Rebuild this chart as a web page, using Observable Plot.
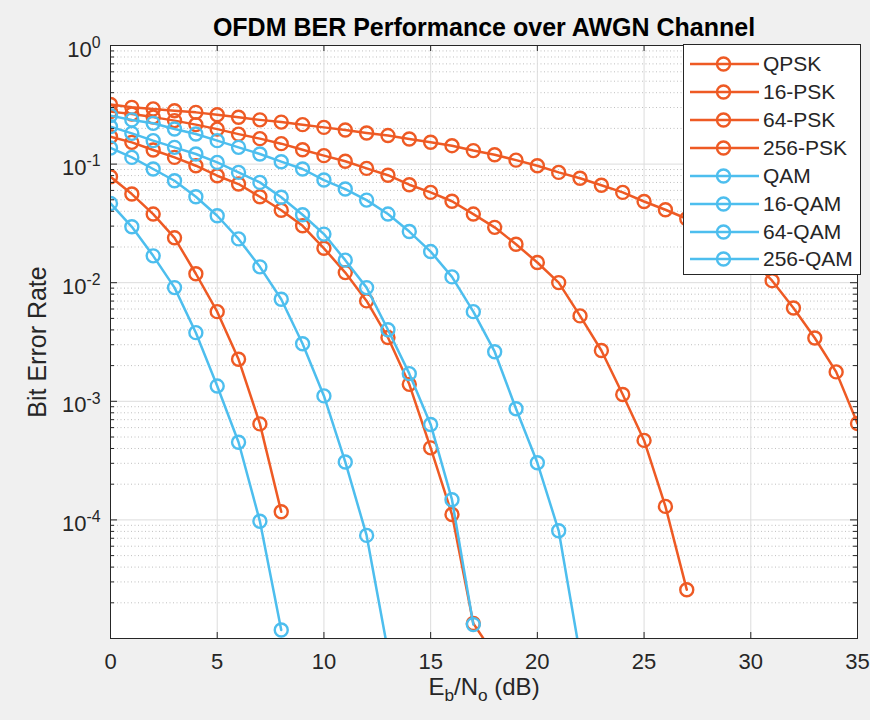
<!DOCTYPE html>
<html><head><meta charset="utf-8">
<script src="https://cdn.jsdelivr.net/npm/d3@7"></script>
<script src="https://cdn.jsdelivr.net/npm/@observablehq/plot@0.6"></script>
<style>
body{margin:0;background:#f0f0f0;}
#wrap{position:relative;width:870px;height:720px;font-family:"Liberation Sans",Arial,sans-serif;}
#legend{position:absolute;left:683px;top:44px;width:178px;height:231px;background:#fff;border:1px solid #262626;box-sizing:border-box;}
.row{position:absolute;left:0;height:28px;display:flex;align-items:center;}
.row span{font-size:21px;color:#262626;margin-left:1px;white-space:nowrap;}
</style></head><body><div id="wrap"></div>
<script>
const ebno = [0,1,2,3,4,5,6,7,8,9,10,11,12,13,14,15,16,17,18,19,20,21,22,23,24,25,26,27,28,29,30,31,32,33,34,35];
const seriesNames = ["QPSK","16-PSK","64-PSK","256-PSK","QAM","16-QAM","64-QAM","256-QAM"];
const seriesColors = ["#EE5A24","#EE5A24","#EE5A24","#EE5A24","#4DBEEE","#4DBEEE","#4DBEEE","#4DBEEE"];
const berQPSK = [0.0783,0.0559,0.0379,0.0239,0.0119,0.0057,0.00226,0.000645,0.000117];
const ber16PSK = [0.170,0.1525,0.1315,0.1139,0.0969,0.0798,0.0679,0.0530,0.0408,0.0302,0.0195,0.01217,0.00702,0.00345,0.00139,0.000405,0.000111,0.0000134,0.0000072];
const ber64PSK = [0.277,0.264,0.249,0.2326,0.2152,0.1971,0.1789,0.1639,0.1487,0.1323,0.1178,0.1058,0.0920,0.0806,0.0670,0.0577,0.0486,0.0379,0.0293,0.0211,0.0148,0.01002,0.00525,0.00268,0.00114,0.000468,0.000130,0.0000258];
const ber256PSK = [0.318,0.301,0.292,0.282,0.273,0.261,0.248,0.236,0.226,0.215,0.204,0.194,0.183,0.174,0.163,0.153,0.143,0.130,0.120,0.108,0.0969,0.0851,0.0760,0.0664,0.0577,0.0484,0.0412,0.0346,0.0279,0.0217,0.0159,0.0104,0.00612,0.00342,0.00177,0.00065];
const berQAM = [0.0466,0.0296,0.01684,0.00909,0.00379,0.001344,0.000452,0.0000973,0.0000118];
const ber16QAM = [0.1368,0.1139,0.0909,0.0724,0.0530,0.0367,0.0234,0.0136,0.00726,0.00306,0.00111,0.000308,0.000074,0.0000078];
const ber64QAM = [0.207,0.1816,0.1576,0.1384,0.1217,0.1034,0.0851,0.0701,0.0525,0.0374,0.0257,0.01549,0.00909,0.00401,0.00171,0.000638,0.000148,0.0000131];
const ber256QAM = [0.2563,0.2358,0.2207,0.1978,0.1795,0.1576,0.1384,0.1217,0.1048,0.0909,0.0734,0.0616,0.0497,0.0379,0.0270,0.0183,0.01119,0.0057,0.00262,0.000865,0.000303,0.000081,0.0000073];
const xTicks = [0,5,10,15,20,25,30,35];
const yTicks = [1,0.1,0.01,0.001,0.0001];
const yMinor = [];
for (let e = -5; e < 0; e++) for (let m = 2; m <= 9; m++) yMinor.push(m * Math.pow(10, e));
const titleText = "OFDM BER Performance over AWGN Channel";
const xLabelText = "Eb/No (dB)";
const yLabelText = "Bit Error Rate";

const allSeries = [berQPSK, ber16PSK, ber64PSK, ber256PSK, berQAM, ber16QAM, ber64QAM, ber256QAM];
const tables = allSeries.map((vals, k) => vals.map((v, i) => ({series: seriesNames[k], x: ebno[i], ber: v})));

const ink = "#262626";
const W = 870, H = 720, mL = 110, mR = 13, mT = 45, mB = 82;
const fw = W - mL - mR, fh = H - mT - mB;

const marks = [
  Plot.frame({fill: "white"}),
  Plot.ruleY(yMinor, {y: d => d, stroke: "#b0b0b0", strokeWidth: 0.8, strokeDasharray: "1,2.5"}),
  Plot.ruleY(yTicks, {y: d => d, stroke: "#dcdcdc", strokeWidth: 1}),
  Plot.ruleX(xTicks, {x: d => d, stroke: "#dcdcdc", strokeWidth: 1}),
];
tables.forEach((t, k) => {
  marks.push(Plot.line(t, {x: "x", y: "ber", stroke: seriesColors[k], strokeWidth: 2.5, clip: true}));
  marks.push(Plot.dot(t, {x: "x", y: "ber", r: 6.5, stroke: seriesColors[k], strokeWidth: 2.4, fill: "none", clip: true}));
});
marks.push(
  Plot.tickX(xTicks, {x: d => d, insetTop: fh - 6, stroke: ink}),
  Plot.tickX(xTicks, {x: d => d, insetBottom: fh - 6, stroke: ink}),
  Plot.tickY(yTicks, {y: d => d, insetRight: fw - 7, stroke: ink}),
  Plot.tickY(yTicks, {y: d => d, insetLeft: fw - 7, stroke: ink}),
  Plot.tickY(yMinor, {y: d => d, insetRight: fw - 4, stroke: ink}),
  Plot.tickY(yMinor, {y: d => d, insetLeft: fw - 4, stroke: ink}),
  Plot.frame({stroke: ink, strokeWidth: 1}),
  Plot.axisX({ticks: xTicks, tickSize: 0, tickPadding: 15, fontSize: 22, label: null, color: ink}),
  Plot.axisY({ticks: yTicks, tickSize: 0, tickPadding: 10, fontSize: 22, label: null, dy: 4, color: ink,
    tickFormat: d => String(Math.round(Math.log10(d)))}),
  Plot.text([titleText], {frameAnchor: "top", dy: -27, fontSize: 25, fontWeight: "bold", fill: "#000"}),
  Plot.text([yLabelText], {frameAnchor: "left", textAnchor: "middle", dx: -73, rotate: -90, fontSize: 25, fill: ink}),
  Plot.text([xLabelText], {frameAnchor: "bottom", dy: 56, fontSize: 24, fill: ink})
);

const chart = Plot.plot({
  width: W, height: H,
  marginLeft: mL, marginRight: mR, marginTop: mT, marginBottom: mB,
  style: {background: "#f0f0f0", fontFamily: "'Liberation Sans', Arial, sans-serif", color: ink},
  x: {domain: [0, 35]},
  y: {type: "log", domain: [1e-5, 1]},
  marks
});

// superscript exponents on y tick labels
d3.select(chart).selectAll('g[aria-label="y-axis tick label"] text').each(function() {
  const exp = this.textContent;
  const t = d3.select(this);
  t.text(null);
  t.append("tspan").text("10");
  t.append("tspan").attr("dy", "-0.55em").attr("font-size", "0.72em").text(exp);
});
// subscripts on x label
d3.select(chart).selectAll("text").filter(function() { return this.textContent === xLabelText; }).each(function() {
  const t = d3.select(this);
  t.text(null);
  t.append("tspan").text("E");
  t.append("tspan").attr("dy", "0.35em").attr("font-size", "0.72em").text("b");
  t.append("tspan").attr("dy", "-0.25em").text("/N");
  t.append("tspan").attr("dy", "0.35em").attr("font-size", "0.72em").text("o");
  t.append("tspan").attr("dy", "-0.25em").text(" (dB)");
});

const wrap = document.getElementById("wrap");
wrap.appendChild(chart);

const legend = document.createElement("div");
legend.id = "legend";
seriesNames.forEach((name, i) => {
  const row = document.createElement("div");
  row.className = "row";
  row.style.top = (5.4 + 27.86 * i) + "px";
  row.innerHTML = `<svg width="78" height="28" style="display:block"><line x1="6" x2="75" y1="14" y2="14" stroke="${seriesColors[i]}" stroke-width="2.5"/><circle cx="39.5" cy="14" r="6.5" fill="none" stroke="${seriesColors[i]}" stroke-width="2.4"/></svg><span>${name}</span>`;
  legend.appendChild(row);
});
wrap.appendChild(legend);
</script>
</body></html>
